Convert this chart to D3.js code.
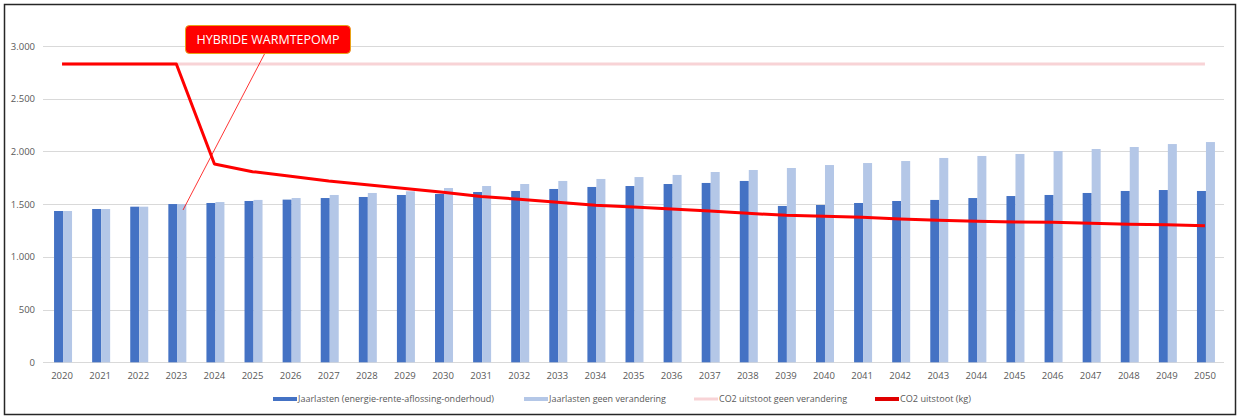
<!DOCTYPE html>
<html>
<head>
<meta charset="utf-8">
<script src="https://cdn.jsdelivr.net/npm/d3@7"></script>
<style>
    body { margin: 0; background: #fff; }
    svg text { font-family: "Open Sans", "Liberation Sans", sans-serif; }
</style>
</head>
<body>
<svg id="chart"></svg>
<script>
// Data
const years = d3.range(2020, 2051).map(String);
const jaarlasten = [1435, 1454, 1476, 1501, 1511, 1530, 1543, 1558, 1568, 1587,
    1597, 1615, 1625, 1644, 1663, 1672, 1691, 1701, 1720, 1483,
    1492, 1511, 1530, 1540, 1558, 1577, 1587, 1606, 1625, 1634, 1625];
const jaarlastenGeen = [1435, 1454, 1476, 1501, 1520, 1540, 1558, 1587, 1606, 1622,
    1653, 1672, 1691, 1720, 1739, 1757, 1777, 1805, 1824, 1843,
    1871, 1890, 1909, 1938, 1957, 1976, 2004, 2023, 2042, 2070, 2089];
const co2Geen = years.map(() => 2830);
const co2 = [2830, 2830, 2830, 2830, 1881, 1808, 1765, 1720, 1685, 1648,
    1612, 1573, 1546, 1517, 1489, 1473, 1454, 1435, 1413, 1394,
    1385, 1375, 1358, 1347, 1337, 1331, 1328, 1318, 1309, 1305, 1296];
const yTicks = [0, 500, 1000, 1500, 2000, 2500, 3000];
const legendLabels = ['Jaarlasten (energie-rente-aflossing-onderhoud)', 'Jaarlasten geen verandering',
    'CO2 uitstoot geen verandering', 'CO2 uitstoot (kg)'];
const calloutText = 'HYBRIDE WARMTEPOMP';

(function() {
    const width = 1241, height = 420;
    const svg = d3.select('#chart').attr('width', width).attr('height', height);

    // outer frame
    svg.append('rect')
        .attr('x', 4.5).attr('y', 4.5).attr('width', 1231).attr('height', 410)
        .attr('fill', '#fff').attr('stroke', '#262626').attr('stroke-width', 1.5);

    const plot = { left: 43, right: 1224, top: 46, bottom: 362.3 };

    const x = d3.scaleBand().domain(years).range([plot.left, plot.right]).padding(0);
    const y = d3.scaleLinear().domain([0, 3000]).range([plot.bottom, plot.top]);
    const barW = 9;

    // gridlines
    svg.append('g').selectAll('line').data(yTicks).enter().append('line')
        .attr('x1', plot.left).attr('x2', plot.right)
        .attr('y1', d => Math.round(y(d)) + 0.5).attr('y2', d => Math.round(y(d)) + 0.5)
        .attr('stroke', '#d9d9d9').attr('stroke-width', 1);

    // y axis labels
    const yAxis = d3.axisLeft(y).tickValues(yTicks).tickSize(0).tickPadding(0)
        .tickFormat(d => d3.format(',')(d).replace(/,/g, '.'));
    const yg = svg.append('g').attr('transform', 'translate(35,0)').call(yAxis);
    yg.select('.domain').remove();
    yg.selectAll('text').attr('fill', '#595959').style('font-size', '9.5px');

    // x axis labels
    const xAxis = d3.axisBottom(x).tickSize(0).tickPadding(0);
    const xg = svg.append('g').attr('transform', 'translate(0,' + 372 + ')').call(xAxis);
    xg.select('.domain').remove();
    xg.selectAll('text').attr('fill', '#595959').style('font-size', '9.5px');

    // bars
    const center = d => x(d) + x.bandwidth() / 2 + 1;
    svg.append('g').selectAll('rect').data(years).enter().append('rect')
        .attr('x', d => center(d) - barW)
        .attr('y', (d, i) => y(jaarlasten[i]))
        .attr('width', barW)
        .attr('height', (d, i) => y(0) - y(jaarlasten[i]))
        .attr('fill', '#4472c4');
    svg.append('g').selectAll('rect').data(years).enter().append('rect')
        .attr('x', d => center(d))
        .attr('y', (d, i) => y(jaarlastenGeen[i]))
        .attr('width', barW)
        .attr('height', (d, i) => y(0) - y(jaarlastenGeen[i]))
        .attr('fill', '#b4c7e7');

    // lines
    const line = d3.line().x((d, i) => x(years[i]) + x.bandwidth() / 2).y(d => y(d));
    svg.append('path').datum(co2Geen).attr('d', line)
        .attr('fill', 'none').attr('stroke', '#f8d3d6').attr('stroke-width', 3);
    svg.append('path').datum(co2).attr('d', line)
        .attr('fill', 'none').attr('stroke', '#ff0000').attr('stroke-width', 3)
        .attr('stroke-linejoin', 'round');

    // callout
    svg.append('line')
        .attr('x1', 265).attr('y1', 53).attr('x2', 183).attr('y2', 210)
        .attr('stroke', '#ff0000').attr('stroke-width', 0.8);
    svg.append('rect')
        .attr('x', 185.5).attr('y', 25.5).attr('width', 165).attr('height', 28)
        .attr('rx', 4).attr('fill', '#ff0000').attr('stroke', '#e8a317').attr('stroke-width', 1);
    svg.append('text')
        .attr('x', 268).attr('y', 39.5).attr('dy', '0.35em')
        .attr('text-anchor', 'middle').attr('fill', '#fff')
        .style('font-size', '12.5px')
        .text(calloutText);

    // legend
    const legendColors = ['#4472c4', '#b4c7e7', '#f8d3d6', '#e00000'];
    const swatchX = [273, 524, 694, 875];
    const swatchH = [4, 4, 3, 4];
    const textW = [196, 117, 128, 71];
    const lg = svg.append('g');
    legendLabels.forEach((label, i) => {
        const g = lg.append('g').attr('transform', 'translate(' + swatchX[i] + ',399)');
        g.append('rect').attr('x', 0).attr('y', -swatchH[i] / 2).attr('width', 24).attr('height', swatchH[i])
            .attr('fill', legendColors[i]);
        g.append('text').attr('x', 25).attr('dy', '0.35em')
            .attr('fill', '#595959').style('font-size', '9.5px')
            .attr('textLength', textW[i]).attr('lengthAdjust', 'spacingAndGlyphs')
            .text(label);
    });
})();
</script>
</body>
</html>
